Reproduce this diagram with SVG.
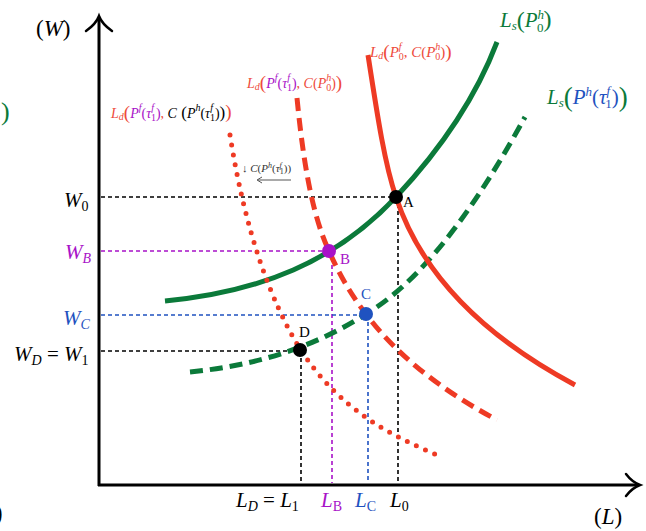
<svg xmlns="http://www.w3.org/2000/svg" width="646" height="531" viewBox="0 0 646 531">
<style>
.t{font-family:"Liberation Serif","DejaVu Serif",serif}
.i{font-style:italic}
.axis{stroke:#000;stroke-width:3;fill:none}
.head{stroke:#000;stroke-width:2.5;fill:none;stroke-linecap:round}
.g{stroke-width:1.6;fill:none;stroke-dasharray:4 3}
.curve{fill:none;stroke-width:5}
.green{stroke:#0b7a3a}
.red{stroke:#ee3a24}
.dash{stroke-dasharray:13 7}
.dot{stroke-dasharray:0 10;stroke-linecap:round;stroke-width:5}
.cR{fill:#ee4a3a}.cP{fill:#a812c8}.cB{fill:#1f52c0}.cG{fill:#0b7a3a}.cK{fill:#000}
</style>
<rect width="646" height="531" fill="#fff"/>

<g id="axes">
<line class="axis" x1="99" y1="486" x2="99" y2="18"/>
<path class="head" d="M86,31 Q96,24 99,16 Q102,24 112,31"/>
<line class="axis" x1="98" y1="485" x2="637" y2="485"/>
<path class="head" d="M626,474 Q632,482 640,485 Q632,488 626,496"/>
<text class="t" x="36" y="36" font-size="23">(<tspan class="i">W</tspan>)</text>
<text class="t" x="594" y="524" font-size="23">(<tspan class="i">L</tspan>)</text>
</g>

<g id="guides">
<line class="g" stroke="#000" x1="101" y1="197" x2="396" y2="197"/>
<line class="g" stroke="#000" x1="398" y1="197" x2="398" y2="483"/>
<line class="g" stroke="#a812c8" x1="101" y1="251" x2="329" y2="251"/>
<line class="g" stroke="#a812c8" x1="332" y1="251" x2="332" y2="483"/>
<line class="g" stroke="#1f52c0" x1="101" y1="315" x2="366" y2="315"/>
<line class="g" stroke="#1f52c0" x1="368" y1="315" x2="368" y2="483"/>
<line class="g" stroke="#000" x1="101" y1="351" x2="300" y2="351"/>
<line class="g" stroke="#000" x1="301" y1="351" x2="301" y2="483"/>
</g>

<g id="connectors">
<path id="Ls0" class="curve green" d="M165,301 C260,292 335,262 396,197 C440,150 475,100 497,42"/>
<path id="Ls1" class="curve green dash" d="M190,372 C250,366 310,350 366,314 C430,276 485,190 525,117"/>
<path id="Ld0" class="curve red" d="M368,55 C378,120 385,165 396,197 C425,285 500,345 575,385"/>
<path id="Ld1" class="curve red dash" d="M297,98 C303,160 312,215 329,251 C340,276 352,296 366,314 C400,360 450,395 497,420"/>
<path id="Ld2" class="curve red dot" d="M230,135 C245,230 270,300 300,349 C340,410 390,435 437,455"/>
<path d="M291,180 L258,180" stroke="#555" stroke-width="1" fill="none"/>
<path d="M262,177 L257,180 L262,183" stroke="#555" stroke-width="1" fill="none"/>
</g>

<g id="A"><circle cx="396" cy="197" r="7" fill="#000"/><text class="t" x="403" y="207" font-size="15">A</text></g>
<g id="B"><circle cx="329" cy="251" r="7" fill="#a812c8"/><text class="t cP" x="340" y="264" font-size="15">B</text></g>
<g id="C"><circle cx="366" cy="314" r="7" fill="#1f52c0"/><text class="t cB" x="361" y="299" font-size="15">C</text></g>
<g id="D"><circle cx="300" cy="350" r="7" fill="#000"/><text class="t" x="299" y="337" font-size="15">D</text></g>

<g id="ylabels" class="t" font-size="21">
<text x="64" y="207"><tspan class="i">W</tspan><tspan font-size="14" dy="4">0</tspan></text>
<text class="cP" x="65" y="259"><tspan class="i">W</tspan><tspan class="i" font-size="14" dy="4">B</tspan></text>
<text class="cB" x="63" y="325"><tspan class="i">W</tspan><tspan class="i" font-size="14" dy="4">C</tspan></text>
<text x="14" y="361"><tspan class="i">W</tspan><tspan class="i" font-size="14" dy="4">D</tspan><tspan dy="-4"> = </tspan><tspan class="i">W</tspan><tspan font-size="14" dy="4">1</tspan></text>
</g>

<g id="xlabels" class="t" font-size="21">
<text x="236" y="507"><tspan class="i">L</tspan><tspan class="i" font-size="14" dy="4">D</tspan><tspan dy="-4"> = </tspan><tspan class="i">L</tspan><tspan font-size="14" dy="4">1</tspan></text>
<text class="cP" x="321" y="507"><tspan class="i">L</tspan><tspan font-size="14" dy="4">B</tspan></text>
<text class="cB" x="355" y="507"><tspan class="i">L</tspan><tspan font-size="14" dy="4">C</tspan></text>
<text x="390" y="507"><tspan class="i">L</tspan><tspan font-size="14" dy="4">0</tspan></text>
</g>

<g id="labelLs0"><text class="t cG" x="500" y="27" font-size="21"><tspan class="i">L</tspan><tspan class="i" font-size="13" dy="3">s</tspan><tspan font-size="24" dy="-2">(</tspan><tspan class="i" dy="-1">P</tspan><tspan class="i" font-size="13" dy="-8">h</tspan><tspan font-size="13" dx="-7" dy="13">0</tspan><tspan font-size="24" dy="-5">)</tspan></text></g>

<g id="labelLs1"><text class="t" x="547" y="104" font-size="21"><tspan class="i cG">L</tspan><tspan class="i cG" font-size="13" dy="3">s</tspan><tspan class="cG" font-size="27" dy="-1">(</tspan><tspan class="i cB" dy="-2">P</tspan><tspan class="i cB" font-size="13" dy="-8">h</tspan><tspan class="cB" dy="8">(</tspan><tspan class="i cB">τ</tspan><tspan class="i cB" font-size="13" dy="-9">f</tspan><tspan class="cB" font-size="13" dx="-5" dy="13">1</tspan><tspan class="cB" dy="-4">)</tspan><tspan class="cG" font-size="27" dy="2">)</tspan></text></g>

<g id="labelLd0"><text class="t cR" x="370" y="57" font-size="15"><tspan class="i">L</tspan><tspan class="i" font-size="10" dy="2">d</tspan><tspan font-size="19" dy="-1">(</tspan><tspan class="i" dy="-1">P</tspan><tspan class="i" font-size="10" dy="-7">f</tspan><tspan font-size="10" dx="-3" dy="10">0</tspan><tspan dy="-3">, </tspan><tspan class="i">C</tspan>(<tspan class="i">P</tspan><tspan class="i" font-size="10" dy="-7">h</tspan><tspan font-size="10" dx="-5" dy="10">0</tspan><tspan dy="-3">)</tspan><tspan font-size="19" dy="1">)</tspan></text></g>

<g id="labelLd1"><text class="t" x="247" y="88" font-size="14"><tspan class="i cR">L</tspan><tspan class="i cR" font-size="10" dy="2">d</tspan><tspan class="cR" font-size="19" dy="-1">(</tspan><tspan class="i cP" dy="-1">P</tspan><tspan class="i cP" font-size="10" dy="-7">f</tspan><tspan class="cP" dy="7">(</tspan><tspan class="i cP">τ</tspan><tspan class="i cP" font-size="10" dy="-7">f</tspan><tspan class="cP" font-size="10" dx="-3" dy="10">1</tspan><tspan class="cP" dy="-3">)</tspan><tspan class="cR">, </tspan><tspan class="i cR">C</tspan><tspan class="cR">(</tspan><tspan class="i cR">P</tspan><tspan class="i cR" font-size="10" dy="-7">h</tspan><tspan class="cR" font-size="10" dx="-5" dy="10">0</tspan><tspan class="cR" dy="-3">)</tspan><tspan class="cR" font-size="19" dy="1">)</tspan></text></g>

<g id="labelLd2"><text class="t" x="111" y="118" font-size="14"><tspan class="i cR">L</tspan><tspan class="i cR" font-size="10" dy="2">d</tspan><tspan class="cR" font-size="19" dy="-1">(</tspan><tspan class="i cP" dy="-1">P</tspan><tspan class="i cP" font-size="10" dy="-7">f</tspan><tspan class="cP" dy="7">(</tspan><tspan class="i cP">τ</tspan><tspan class="i cP" font-size="10" dy="-7">f</tspan><tspan class="cP" font-size="10" dx="-3" dy="10">1</tspan><tspan class="cP" dy="-3">)</tspan><tspan class="cR">, </tspan><tspan class="i cK">C</tspan><tspan class="cK" font-size="17"> (</tspan><tspan class="i cK">P</tspan><tspan class="i cK" font-size="10" dy="-7">h</tspan><tspan class="cK" dy="7">(</tspan><tspan class="i cK">τ</tspan><tspan class="i cK" font-size="10" dy="-7">f</tspan><tspan class="cK" font-size="10" dx="-3" dy="10">1</tspan><tspan class="cK" dy="-3">)</tspan><tspan class="cK" font-size="17">)</tspan><tspan class="cR" font-size="19">)</tspan></text></g>

<g id="labelCshift"><text class="t" x="242" y="172" font-size="11" fill="#333">↓ <tspan class="i">C</tspan>(<tspan class="i">P</tspan><tspan class="i" font-size="8" dy="-4">h</tspan><tspan dy="4">(</tspan><tspan class="i">τ</tspan><tspan class="i" font-size="8" dy="-4">f</tspan><tspan font-size="8" dx="-2" dy="6">1</tspan><tspan dy="-2">))</tspan></text></g>

<g id="edges"><text class="t cG" x="1" y="120" font-size="26">)</text><text class="t" x="-6" y="521" font-size="26">)</text></g>
</svg>
